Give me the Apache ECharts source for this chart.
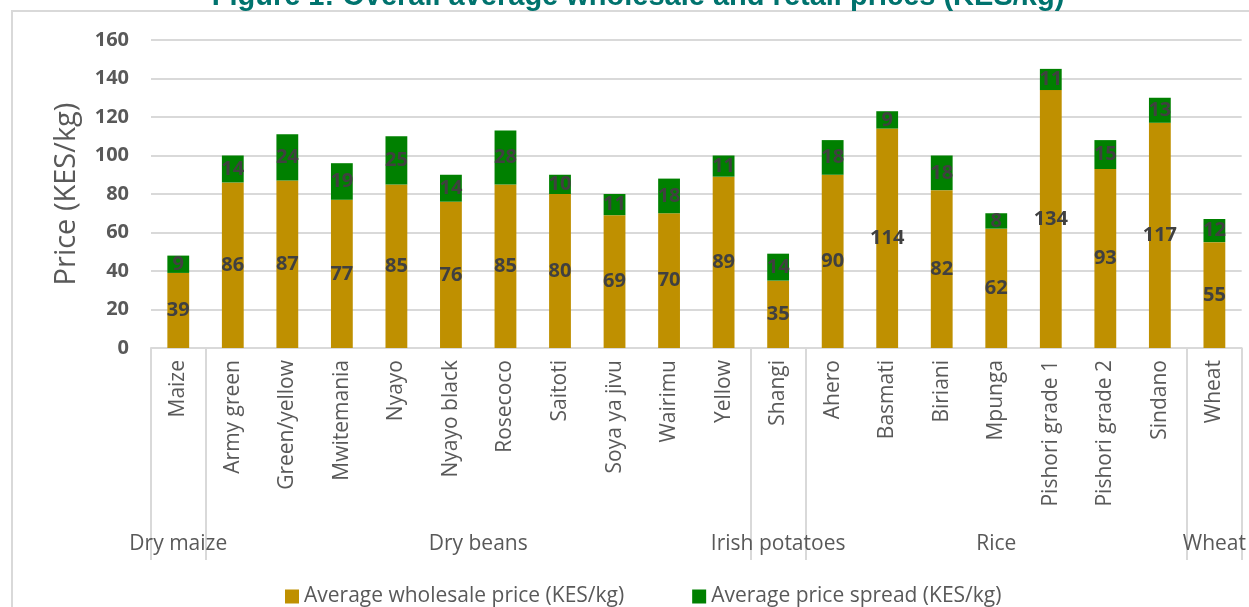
<!DOCTYPE html>
<html><head><meta charset="utf-8">
<script src="https://cdn.jsdelivr.net/npm/echarts@6/dist/echarts.min.js"></script>
<style>html,body{margin:0;padding:0;background:#fff}#c{width:1249px;height:607px}</style>
</head><body><div id="c"></div>
<script>
const categories = ['Maize','Army green','Green/yellow','Mwitemania','Nyayo','Nyayo black','Rosecoco','Saitoti','Soya ya jivu','Wairimu','Yellow','Shangi','Ahero','Basmati','Biriani','Mpunga','Pishori grade 1','Pishori grade 2','Sindano','Wheat'];
const wholesale = [39,86,87,77,85,76,85,80,69,70,89,35,90,114,82,62,134,93,117,55];
const spread = [9,14,24,19,25,14,28,10,11,18,11,14,18,9,18,8,11,15,13,12];
const groupNames = ['Dry maize','Dry beans','Irish potatoes','Rice','Wheat'];
const groupSizes = [1,10,1,7,1];
const yTicks = [0,20,40,60,80,100,120,140,160];

// Build half-step axis for group labels and separators
const n = categories.length;
const groupAxis = new Array(2*n+1).fill('');
const boundaries = new Set();
let s = 0;
groupNames.forEach((g,i)=>{
  boundaries.add(2*s);
  groupAxis[2*s+groupSizes[i]] = g;
  s += groupSizes[i];
});
boundaries.add(2*s);

const txt = '#595959';
const font = 'Open Sans';
const chart = echarts.init(document.getElementById('c'));
chart.setOption({
  animation:false,
  textStyle:{fontFamily:font},
  title:{text:'Figure 1: Overall average wholesale and retail prices (KES/kg)',left:633,textAlign:'center',top:-23,
    textStyle:{color:'#00736e',fontSize:29,fontWeight:'bold',fontFamily:'Liberation Sans'}},
  graphic:[{type:'rect',shape:{x:12,y:11,width:1260,height:620},style:{fill:'none',stroke:'#d9d9d9',lineWidth:2},silent:true,z:-1}],
  grid:{left:151,right:4,top:40,bottom:259},
  legend:{bottom:-5,left:280,itemWidth:14,itemHeight:14,itemGap:68,icon:'rect',
    textStyle:{color:txt,fontSize:21,fontFamily:font}},
  xAxis:[{
    type:'category',data:categories,
    axisLine:{lineStyle:{color:'#d9d9d9',width:2}},
    axisTick:{show:false},
    axisLabel:{rotate:90,interval:0,color:txt,fontSize:21,margin:12,fontFamily:font}
  },{
    type:'category',data:groupAxis,boundaryGap:false,position:'bottom',
    axisLine:{show:false},
    axisTick:{show:true,length:212,interval:(i)=>boundaries.has(i),lineStyle:{color:'#d9d9d9',width:2}},
    axisLabel:{interval:0,color:txt,fontSize:21,margin:186,fontFamily:font}
  }],
  yAxis:{type:'value',min:yTicks[0],max:yTicks[yTicks.length-1],interval:20,
    name:'Price (KES/kg)',nameLocation:'middle',nameGap:70,
    nameTextStyle:{color:txt,fontSize:29,fontFamily:font},
    axisLine:{show:false},axisTick:{show:false},
    axisLabel:{color:txt,fontSize:20,fontWeight:'bold',margin:22,fontFamily:font},
    splitLine:{lineStyle:{color:'#d9d9d9',width:2}}},
  series:[{
    name:'Average wholesale price (KES/kg)',type:'bar',stack:'a',data:wholesale,barWidth:'40%',
    itemStyle:{color:'#BF9000'},
    label:{show:true,position:'inside',color:'#404040',fontSize:20,fontWeight:'bold',fontFamily:font}
  },{
    name:'Average price spread (KES/kg)',type:'bar',stack:'a',data:spread,barWidth:'40%',
    itemStyle:{color:'#008000'},
    label:{show:true,position:'inside',color:'#404040',fontSize:20,fontWeight:'bold',fontFamily:font}
  }]
});
</script></body></html>
